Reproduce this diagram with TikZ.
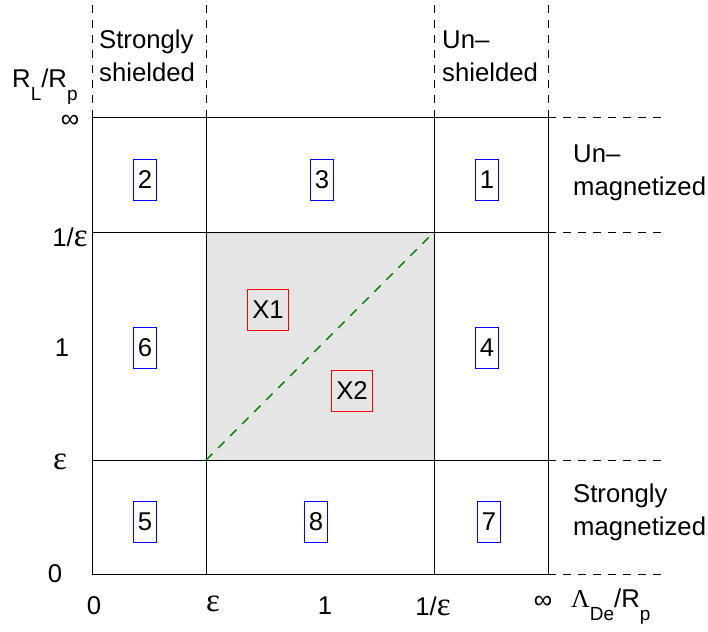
\documentclass[tikz,border=0pt]{standalone}
\usepackage{fontspec}
\setmainfont{Liberation Sans}
\newfontfamily\grk{Liberation Serif}
\usepackage{tikz}

\newcommand{\eps}{{\grk\fontsize{33}{34}\selectfont ε}}
\newcommand{\lowsub}[1]{\raisebox{-13pt}{\fontsize{19}{19}\selectfont #1}}

\tikzset{
  gridline/.style={line width=1pt},
  extline/.style={line width=1pt,dash pattern=on 8pt off 7pt},
  regbox/.style={draw=blue,line width=0.8pt,minimum height=41pt,inner xsep=4pt,inner ysep=0pt},
  mixbox/.style={draw=red,line width=0.8pt,minimum height=41pt,inner xsep=5pt,inner ysep=0pt},
  tick/.style={inner sep=0pt}
}

\begin{document}
\begin{tikzpicture}[x=1pt,y=-1pt,font=\fontsize{25.7}{33}\selectfont]
\useasboundingbox (0,0) rectangle (708,631);
% grid corners
\coordinate (c0r0) at (92,574);  \coordinate (c3r0) at (548,574);
\coordinate (c0r1) at (92,460);  \coordinate (c3r1) at (548,460);
\coordinate (c0r2) at (92,232);  \coordinate (c3r2) at (548,232);
\coordinate (c0r3) at (92,118);  \coordinate (c3r3) at (548,118);
\coordinate (c1r0) at (206,574); \coordinate (c1r3) at (206,118);
\coordinate (c2r0) at (434,574); \coordinate (c2r3) at (434,118);
\coordinate (c1r1) at (206,460); \coordinate (c2r2) at (434,232);
% shaded block
\fill[gray!20] (c1r1) rectangle (c2r2);
\draw[gridline] (c0r0) -- (c3r0);
\draw[gridline] (c0r1) -- (c3r1);
\draw[gridline] (c0r2) -- (c3r2);
\draw[gridline] (c0r3) -- (c3r3);
\draw[gridline] (c0r0) -- (c0r3);
\draw[gridline] (c1r0) -- (c1r3);
\draw[gridline] (c2r0) -- (c2r3);
\draw[gridline] (c3r0) -- (c3r3);
% dashed extensions
\draw[extline] (c0r3) -- (92,5);
\draw[extline] (c1r3) -- (206,5);
\draw[extline] (c2r3) -- (434,5);
\draw[extline] (c3r3) -- (548,5);
\draw[extline] (c3r0) -- (665,574);
\draw[extline] (c3r1) -- (665,460);
\draw[extline] (c3r2) -- (665,232);
\draw[extline] (c3r3) -- (665,118);
\draw[green!50!black,line width=1.4pt,dash pattern=on 9pt off 8pt] (c1r1) -- (c2r2);
% axis labels
\node[tick,anchor=base west] (ylabel) at (12,88) {R\lowsub{L}/R\lowsub{p}};
\node[tick,anchor=base west] (xlabel) at (571,607) {{\grk Λ}\lowsub{De}/R\lowsub{p}};
\node[tick] (yinf) at (70,121) {∞};
\node[tick] (yinveps) at (70,237) {1/\eps};
\node[tick] (yone) at (62,348) {1};
\node[tick] (yeps) at (60,462) {\eps};
\node[tick] (yzero) at (55,574) {0};
\node[tick] (xzero) at (94,606) {0};
\node[tick] (xeps) at (213,604) {\eps};
\node[tick] (xone) at (325,606) {1};
\node[tick] (xinveps) at (433,606) {1/\eps};
\node[tick] (xinf) at (543,602) {∞};
% regime names
\node[tick,anchor=base west,align=left] (strshield) at (99,82) {Strongly\\shielded};
\node[tick,anchor=base west,align=left] (unshield) at (442,82) {Un–\\shielded};
\node[tick,anchor=base west,align=left] (unmag) at (573,195) {Un–\\magnetized};
\node[tick,anchor=base west,align=left] (strmag) at (573,535) {Strongly\\magnetized};
% regions
\node[regbox] (reg2) at (145,180) {2};
\node[regbox] (reg3) at (322,180) {3};
\node[regbox] (reg1) at (487,180) {1};
\node[regbox] (reg6) at (145,348) {6};
\node[regbox] (reg4) at (487,348) {4};
\node[regbox] (reg5) at (145,522) {5};
\node[regbox] (reg8) at (316,522) {8};
\node[regbox] (reg7) at (489,522) {7};
\node[mixbox] (x1) at (268,310) {X1};
\node[mixbox] (x2) at (352,391) {X2};
\end{tikzpicture}
\end{document}
